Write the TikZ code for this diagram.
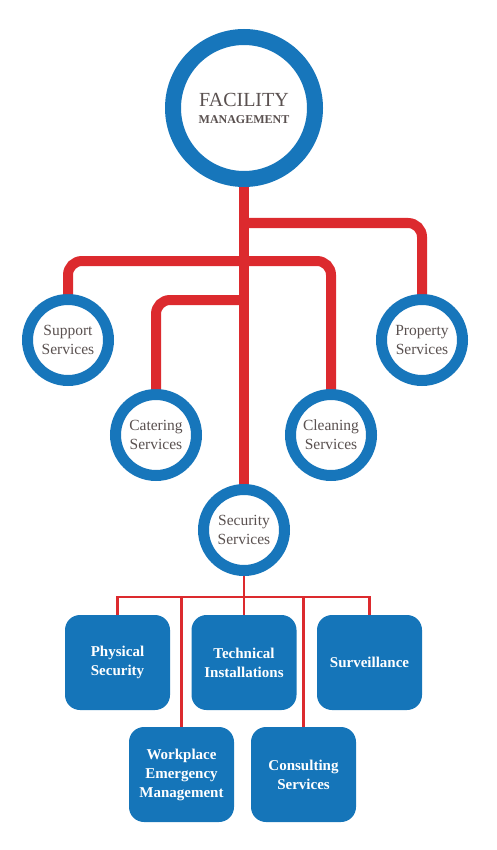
\documentclass[tikz,border=0pt]{standalone}
\usepackage{fontspec}
\setmainfont{Liberation Serif}
\definecolor{ringblue}{HTML}{1776BB}
\definecolor{boxblue}{HTML}{1575B9}
\definecolor{linered}{HTML}{DC2A2E}
\definecolor{txtgray}{HTML}{5A5150}
\begin{document}
\begin{tikzpicture}[x=1pt,y=-1pt,
  bigring/.style={circle,draw=ringblue,line width=16pt,fill=white,minimum size=142pt,inner sep=0pt,align=center,text=txtgray,font=\fontsize{20}{17}\selectfont},
  ring/.style={circle,draw=ringblue,line width=11pt,fill=white,minimum size=81pt,inner sep=0pt,align=center,text=txtgray,font=\fontsize{15.5}{19}\selectfont},
  subbox/.style={rectangle,rounded corners=15pt,fill=boxblue,minimum width=105pt,minimum height=95pt,inner sep=0pt,align=center,text=white,font=\fontsize{15}{19}\selectfont\bfseries},
  thick red/.style={draw=linered,line width=10pt,rounded corners=14pt},
  thin red/.style={draw=linered,line width=2.5pt}]
\useasboundingbox (0,0) rectangle (496,850);
\node[bigring] (fm) at (244,108) {FACILITY\\{\fontsize{12}{14}\selectfont\bfseries MANAGEMENT}};
\node[ring] (sup) at (68,340) {Support\\Services};
\node[ring] (prop) at (422,340) {Property\\Services};
\node[ring] (cat) at (156,435) {Catering\\Services};
\node[ring] (cln) at (331,435) {Cleaning\\Services};
\node[ring] (sec) at (244,530) {Security\\Services};
\node[subbox] (phys) at (117.5,662.5) {Physical\\Security};
\node[subbox] (tech) at (244,662.5) {Technical\\Installations};
\node[subbox] (surv) at (369.5,662.5) {Surveillance};
\node[subbox] (work) at (181.5,774.5) {Workplace\\Emergency\\Management};
\node[subbox] (cons) at (303.5,774.5) {Consulting\\Services};
% thick red connectors
\coordinate (jp) at (fm.south |- 0,223);
\coordinate (jsc) at (fm.south |- 0,261);
\coordinate (jc) at (fm.south |- 0,300);
\draw[thick red] (fm.south) -- (sec.north);
\draw[thick red] (jp) -| (prop.north);
\draw[thick red] (sup.north) |- (jsc) -| (cln.north);
\draw[thick red] (jc) -| (cat.north);
% thin red connectors
\coordinate (bus) at (sec.south |- 0,597);
\draw[thin red] (sec.south) -- (bus);
\draw[thin red] (phys.north) |- (bus) -| (surv.north);
\draw[thin red] (tech.north) -- (tech.north |- bus);
\draw[thin red] (work.north) -- (work.north |- bus);
\draw[thin red] (cons.north) -- (cons.north |- bus);
\end{tikzpicture}
\end{document}
